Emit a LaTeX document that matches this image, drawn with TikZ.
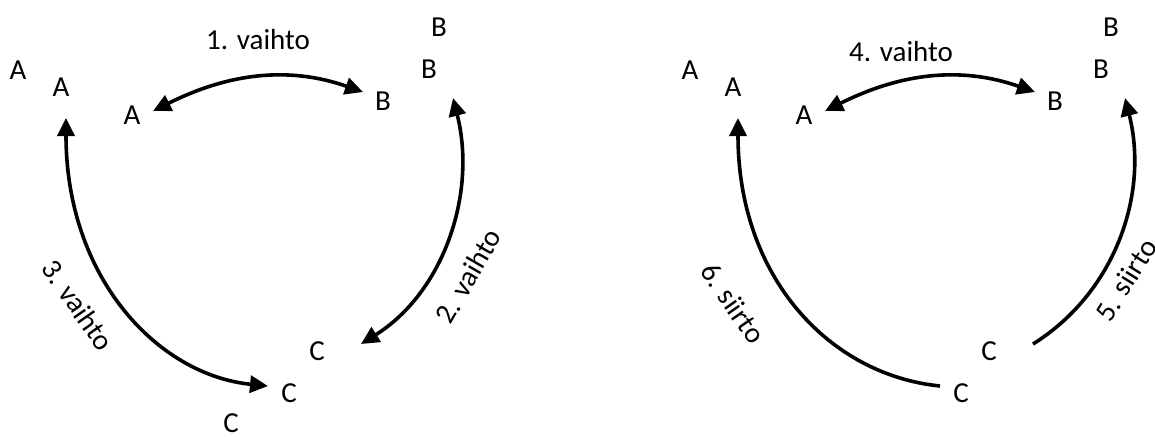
\documentclass[tikz,border=0pt]{standalone}
\usepackage{fontspec}
\setmainfont{Carlito}
\usetikzlibrary{arrows.meta}
\tikzset{
  letter/.style={inner sep=0pt,font=\fontsize{14.5}{17}\selectfont},
  steplabel/.style={inner sep=0pt,font=\fontsize{14.5}{17}\selectfont},
  swaparr/.style={{Triangle[length=9pt,width=8.5pt]}-{Triangle[length=9pt,width=8.5pt]},
                  line width=1.8pt},
  movearr/.style={-{Triangle[length=9pt,width=8.5pt]},line width=1.8pt}
}

\begin{document}
\begin{tikzpicture}[x=0.5pt,y=-0.5pt]
    \path[use as bounding box] (0,0) rectangle (1155,436);
    % left: three swaps
    \node[letter] (lAo) at (18,70) {A};
    \node[letter] (lAm) at (61,87) {A};
    \node[letter] (lAi) at (132,115) {A};
    \node[letter] (lBo) at (439,27) {B};
    \node[letter] (lBm) at (429,69) {B};
    \node[letter] (lBi) at (383,101) {B};
    \node[letter] (lCi) at (317,351) {C};
    \node[letter] (lCm) at (289,393) {C};
    \node[letter] (lCo) at (231,423) {C};
    \coordinate (lab) at (153,111);
    \coordinate (lba) at (363,92);
    \coordinate (lbc) at (453,98);
    \coordinate (lcb) at (361,344);
    \coordinate (lac) at (66,118);
    \coordinate (lca) at (268,386);
    \draw[swaparr] (lab) .. controls (228,73.5) and (288,65.75) .. (lba);
    \draw[swaparr] (lbc) .. controls (477,193) and (444,292) .. (lcb);
    \draw[swaparr] (lac) .. controls (66,278) and (158,375) .. (lca);
    \node[steplabel] (swap1) at (258,40) {1. vaihto};
    \node[steplabel,rotate=60] (swap2) at (468,276) {2. vaihto};
    \node[steplabel,rotate=-55] (swap3) at (78,305) {3. vaihto};
    % right: one swap, two moves
    \begin{scope}[shift={(672,0)}]
      \node[letter] (rAo) at (18,70) {A};
      \node[letter] (rAm) at (61,87) {A};
      \node[letter] (rAi) at (132,115) {A};
      \node[letter] (rBo) at (439,27) {B};
      \node[letter] (rBm) at (429,69) {B};
      \node[letter] (rBi) at (383,101) {B};
      \node[letter] (rCi) at (317,351) {C};
      \node[letter] (rCm) at (289,393) {C};
      \coordinate (rab) at (153,111);
      \coordinate (rba) at (363,92);
      \coordinate (rbc) at (453,98);
      \coordinate (rcb) at (361,344);
      \coordinate (rac) at (66,118);
      \coordinate (rca) at (268,386);
      \draw[swaparr] (rab) .. controls (228,73.5) and (288,65.75) .. (rba);
      \draw[movearr] (rcb) .. controls (444,292) and (477,193) .. (rbc);
      \draw[movearr] (rca) .. controls (158,375) and (66,278) .. (rac);
    \end{scope}
    \node[steplabel] (swap4) at (901,52) {4. vaihto};
    \node[steplabel,rotate=58] (move5) at (1126,280) {5. siirto};
    \node[steplabel,rotate=-55] (move6) at (733,303) {6. siirto};
  \end{tikzpicture}
\end{document}
